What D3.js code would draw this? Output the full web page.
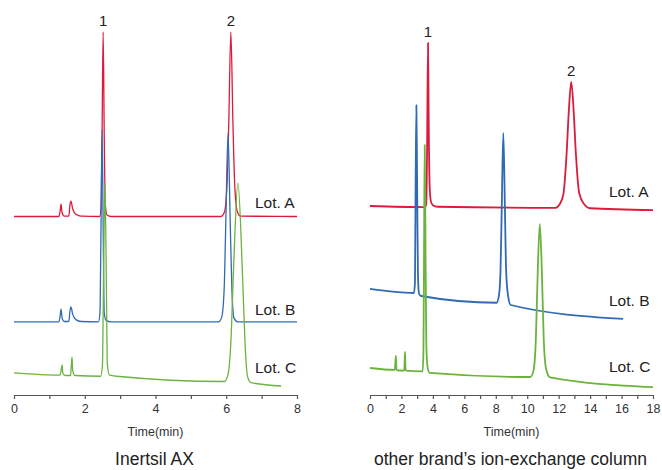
<!DOCTYPE html>
<html>
<head>
<meta charset="utf-8">
<script src="https://cdn.jsdelivr.net/npm/d3@7"></script>
<style>
  body { margin: 0; background: #fff; }
  svg text { font-family: "Liberation Sans", Arial, sans-serif; fill: #222; }
</style>
</head>
<body>
<div id="chart"></div>
<script>
// [time(min), signal]
const axLotA = [[0,47.6],[1.27,47.6],[1.31,49.5],[1.33,50.9],[1.36,48.6],[1.42,47.7],[1.55,47.7],[1.58,50.5],[1.61,51.7],[1.66,49.6],[1.75,48.2],[1.9,47.7],[2.42,47.6],[2.46,50],[2.49,70],[2.52,96.8],[2.55,70],[2.58,51],[2.63,48],[2.75,47.6],[5.85,47.6],[5.95,48.8],[6.02,56],[6.07,72],[6.13,96.8],[6.19,72],[6.24,56],[6.31,49],[6.4,47.7],[8,47.6]];
const axLotB = [[0,19.5],[1.27,19.5],[1.31,21.5],[1.33,22.9],[1.36,20.5],[1.42,19.6],[1.55,19.6],[1.58,22.2],[1.61,23.5],[1.66,21.5],[1.75,20.1],[1.9,19.6],[2.39,19.5],[2.43,22],[2.46,45],[2.49,70.7],[2.52,45],[2.55,22],[2.6,19.9],[2.75,19.5],[5.78,19.5],[5.87,20.7],[5.94,28],[5.99,47],[6.05,69.9],[6.11,47],[6.16,28],[6.22,20.5],[6.32,19.5],[8,19.5]];
const axLotC = [[0,5.9],[1.3,5.3],[1.34,7],[1.36,8.0],[1.38,5.8],[1.45,5.2],[1.6,5.2],[1.62,8],[1.64,10.1],[1.66,6.5],[1.72,5.2],[2.45,5.0],[2.5,8],[2.535,35],[2.57,56.5],[2.605,35],[2.64,8],[2.7,5.3],[2.9,5.0],[5.95,3.6],[6.05,5.5],[6.13,14],[6.2,32],[6.33,56.5],[6.46,32],[6.53,14],[6.6,5],[6.7,3.3],[7.55,2.4]];

const otLotA = [[0,50.4],[3.5,50.1],[3.58,51],[3.63,65],[3.69,93.9],[3.74,70],[3.8,55],[3.88,51.5],[4.0,50.6],[4.3,50.2],[11.8,49.9],[12.05,50.8],[12.3,53.5],[12.5,64],[12.65,76],[12.8,83.5],[12.95,76],[13.1,64],[13.3,54],[13.6,51],[14.0,49.8],[18,49.3]];
const otLotB = [[0,28.3],[2.8,27.2],[2.86,30],[2.9,55],[2.95,77.3],[3.0,55],[3.05,32],[3.12,27],[3.25,26.4],[8.05,24.6],[8.2,26.5],[8.3,33],[8.38,50],[8.48,69.9],[8.58,50],[8.66,33],[8.78,26.5],[8.95,24],[16.1,20.3]];
const otLotC = [[0,7.2],[1.58,6.7],[1.62,9],[1.65,10.4],[1.68,7],[1.72,6.6],[2.18,6.5],[2.21,10],[2.23,11.5],[2.26,7],[2.3,6.5],[3.35,6.3],[3.4,12],[3.44,40],[3.48,66.7],[3.53,40],[3.58,14],[3.66,7.5],[3.8,5.9],[10.2,4.8],[10.4,6.5],[10.55,15],[10.67,33],[10.8,45.6],[10.93,33],[11.05,15],[11.2,7],[11.45,4.7],[18,2.1]];

const lotNames = ["Lot. A", "Lot. B", "Lot. C"];
const lotColors = ["#dc1a3c", "#2f6bb3", "#6bb33d"];
// label anchors [time, signal]
const axLotLabels = [[6.81,49.9],[6.81,21.3],[6.81,5.9]];
const otLotLabels = [[15.2,52.8],[15.2,23.7],[15.2,6.1]];
const axPeaks = [["1",2.52,96.8],["2",6.13,96.8]];
const otPeaks = [["1",3.69,93.9],["2",12.8,83.5]];
const axTicks = d3.range(0, 9);
const otTicks = d3.range(0, 19);

const width = 662, height = 470, axisY = 395;

const svg = d3.select("#chart").append("svg")
  .attr("width", width).attr("height", height);

const y = d3.scaleLinear().domain([0, 100]).range([axisY, 20]);

const panels = [
  { x0: 14, x1: 297, max: 8, ticks: axTicks, lots: [axLotA, axLotB, axLotC], labels: axLotLabels, peaks: axPeaks, title: "Inertsil AX", sw: 1.3 },
  { x0: 370, x1: 653, max: 18, ticks: otTicks, lots: [otLotA, otLotB, otLotC], labels: otLotLabels, peaks: otPeaks, title: "other brand\u2019s ion-exchange column", sw: 1.8 },
];

panels.forEach((p) => {
  const x = d3.scaleLinear().domain([0, p.max]).range([p.x0, p.x1]);
  const line = d3.line().x((d) => x(d[0])).y((d) => y(d[1])).curve(d3.curveMonotoneX);

  p.lots.forEach((data, i) => {
    svg.append("path")
      .datum(data)
      .attr("d", line)
      .style("fill", "none")
      .style("stroke", lotColors[i])
      .style("stroke-width", p.sw)
      .style("stroke-linejoin", "round");
  });

  p.labels.forEach((d, i) => {
    svg.append("text")
      .attr("x", x(d[0])).attr("y", y(d[1]))
      .style("font-size", "15.5px")
      .text(lotNames[i]);
  });

  p.peaks.forEach((d) => {
    svg.append("text")
      .attr("x", x(d[1])).attr("y", y(d[2]) - 6)
      .attr("text-anchor", "middle")
      .style("font-size", "15px")
      .text(d[0]);
  });

  const axis = svg.append("g")
    .attr("transform", `translate(0,${axisY})`)
    .call(d3.axisBottom(x)
      .tickValues(p.ticks)
      .tickSize(4)
      .tickSizeOuter(0)
      .tickFormat((d) => (d % 2 === 0 ? d : "")));
  axis.attr("font-size", 12.5).attr("font-family", "'Liberation Sans', Arial, sans-serif");
  axis.select(".domain").attr("stroke", "#555").attr("stroke-width", 1.2);
  axis.selectAll(".tick line").attr("stroke", "#555").attr("stroke-width", 1.2);
  axis.selectAll(".tick text")
    .attr("y", 9)
    .style("font-size", "12.5px")
    .style("fill", "#333");

  svg.append("text")
    .attr("x", (p.x0 + p.x1) / 2).attr("y", 436)
    .attr("text-anchor", "middle")
    .style("font-size", "12.5px")
    .style("fill", "#333")
    .text("Time(min)");

  svg.append("text")
    .attr("x", (p.x0 + p.x1) / 2 - 1).attr("y", 465)
    .attr("text-anchor", "middle")
    .style("font-size", "17.5px")
    .text(p.title);
});
</script>
</body>
</html>
